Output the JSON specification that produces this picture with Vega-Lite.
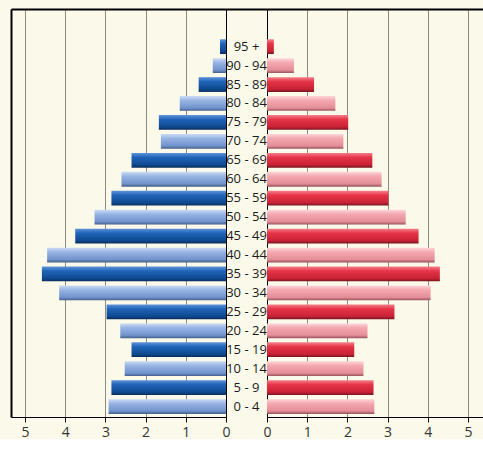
{
  "$schema": "https://vega.github.io/schema/vega-lite/v6.json",
  "background": "#fbfaea",
  "padding": {"left": 11, "top": 9, "right": 0, "bottom": 0},
  "autosize": {"type": "pad"},
  "config": {"view": {"stroke": null}},
  "data": {"values": [
    {"age": "95 +", "male": 0.15, "female": 0.17},
    {"age": "90 - 94", "male": 0.33, "female": 0.67},
    {"age": "85 - 89", "male": 0.68, "female": 1.17},
    {"age": "80 - 84", "male": 1.15, "female": 1.7},
    {"age": "75 - 79", "male": 1.67, "female": 2.02},
    {"age": "70 - 74", "male": 1.62, "female": 1.9},
    {"age": "65 - 69", "male": 2.35, "female": 2.62},
    {"age": "60 - 64", "male": 2.6, "female": 2.85},
    {"age": "55 - 59", "male": 2.85, "female": 3.02},
    {"age": "50 - 54", "male": 3.27, "female": 3.45},
    {"age": "45 - 49", "male": 3.75, "female": 3.77},
    {"age": "40 - 44", "male": 4.45, "female": 4.17},
    {"age": "35 - 39", "male": 4.58, "female": 4.3},
    {"age": "30 - 34", "male": 4.15, "female": 4.07},
    {"age": "25 - 29", "male": 2.97, "female": 3.17},
    {"age": "20 - 24", "male": 2.63, "female": 2.5},
    {"age": "15 - 19", "male": 2.35, "female": 2.17},
    {"age": "10 - 14", "male": 2.52, "female": 2.4},
    {"age": "5 - 9", "male": 2.85, "female": 2.65},
    {"age": "0 - 4", "male": 2.92, "female": 2.67}
  ]},
  "spacing": 0,
  "bounds": "flush",
  "resolve": {"scale": {"x": "independent", "y": "independent"}},
  "hconcat": [
    {
      "width": 215,
      "height": 408,
      "encoding": {
        "y": {"field": "age", "type": "nominal", "sort": null,
          "scale": {"type": "band", "domain": ["95 +","90 - 94","85 - 89","80 - 84","75 - 79","70 - 74","65 - 69","60 - 64","55 - 59","50 - 54","45 - 49","40 - 44","35 - 39","30 - 34","25 - 29","20 - 24","15 - 19","10 - 14","5 - 9","0 - 4"], "paddingInner": 0.22, "paddingOuter": 0.88, "align": 0.908},
          "axis": {"orient": "left", "labels": false, "ticks": false, "grid": false, "title": null, "domain": true, "domainColor": "#000000", "domainWidth": 2}}
      },
      "layer": [
        {
          "transform": [{"filter": {"field": "age", "oneOf": ["95 +","85 - 89","75 - 79","65 - 69","55 - 59","45 - 49","35 - 39","25 - 29","15 - 19","5 - 9"]}}],
          "mark": {"type": "bar", "color": {"gradient": "linear", "x1": 0, "y1": 0, "x2": 0, "y2": 1, "stops": [
            {"offset": 0, "color": "#5f93da"}, {"offset": 0.3, "color": "#2064b8"}, {"offset": 0.8, "color": "#0e4990"}, {"offset": 1, "color": "#0a2c5c"}]}},
          "encoding": {
            "x": {"field": "male", "type": "quantitative",
              "scale": {"domain": [0, 5.348], "reverse": true, "nice": false, "zero": true},
              "axis": {"orient": "bottom", "values": [0,1,2,3,4,5], "title": null, "domain": true, "domainColor": "#000000", "domainWidth": 1,
                "ticks": true, "tickColor": "#000000", "tickSize": 5, "labelFont": "Open Sans", "labelFontSize": 14, "labelColor": "#333333",
                "labelPadding": 3, "labelFlush": false, "grid": true,
                "gridColor": {"condition": {"test": "datum.value === 0", "value": "#000000"}, "value": "#8c8c84"}}}
          }
        },
        {
          "transform": [{"filter": {"not": {"field": "age", "oneOf": ["95 +","85 - 89","75 - 79","65 - 69","55 - 59","45 - 49","35 - 39","25 - 29","15 - 19","5 - 9"]}}}],
          "mark": {"type": "bar", "color": {"gradient": "linear", "x1": 0, "y1": 0, "x2": 0, "y2": 1, "stops": [
            {"offset": 0, "color": "#cddcf4"}, {"offset": 0.3, "color": "#98b4e4"}, {"offset": 0.8, "color": "#7193cc"}, {"offset": 1, "color": "#445f8c"}]}},
          "encoding": {
            "x": {"field": "male", "type": "quantitative",
              "scale": {"domain": [0, 5.348], "reverse": true, "nice": false, "zero": true},
              "axis": {"orient": "top", "labels": false, "ticks": false, "grid": false, "title": null, "domain": true, "domainColor": "#000000", "domainWidth": 2}}
          }
        }
      ],
      "resolve": {"axis": {"x": "independent"}}
    },
    {
      "width": 41,
      "height": 408,
      "mark": {"type": "text", "font": "Open Sans", "fontSize": 13, "color": "#1a1a1a", "baseline": "middle", "align": "center"},
      "encoding": {
        "y": {"field": "age", "type": "nominal", "sort": null,
          "scale": {"type": "band", "domain": ["95 +","90 - 94","85 - 89","80 - 84","75 - 79","70 - 74","65 - 69","60 - 64","55 - 59","50 - 54","45 - 49","40 - 44","35 - 39","30 - 34","25 - 29","20 - 24","15 - 19","10 - 14","5 - 9","0 - 4"], "paddingInner": 0.22, "paddingOuter": 0.88, "align": 0.908},
          "axis": null},
        "x": {"datum": 0.5, "type": "quantitative", "scale": {"domain": [0, 1], "nice": false},
          "axis": {"orient": "top", "labels": false, "ticks": false, "grid": false, "title": null, "domain": true, "domainColor": "#000000", "domainWidth": 2}},
        "text": {"field": "age"}
      }
    },
    {
      "width": 216,
      "height": 408,
      "encoding": {
        "y": {"field": "age", "type": "nominal", "sort": null,
          "scale": {"type": "band", "domain": ["95 +","90 - 94","85 - 89","80 - 84","75 - 79","70 - 74","65 - 69","60 - 64","55 - 59","50 - 54","45 - 49","40 - 44","35 - 39","30 - 34","25 - 29","20 - 24","15 - 19","10 - 14","5 - 9","0 - 4"], "paddingInner": 0.22, "paddingOuter": 0.88, "align": 0.908},
          "axis": null}
      },
      "layer": [
        {
          "transform": [{"filter": {"field": "age", "oneOf": ["95 +","85 - 89","75 - 79","65 - 69","55 - 59","45 - 49","35 - 39","25 - 29","15 - 19","5 - 9"]}}],
          "mark": {"type": "bar", "color": {"gradient": "linear", "x1": 0, "y1": 0, "x2": 0, "y2": 1, "stops": [
            {"offset": 0, "color": "#f4808b"}, {"offset": 0.3, "color": "#e63448"}, {"offset": 0.8, "color": "#c92236"}, {"offset": 1, "color": "#78141f"}]}},
          "encoding": {
            "x": {"field": "female", "type": "quantitative",
              "scale": {"domain": [0, 5.373], "nice": false, "zero": true},
              "axis": {"orient": "bottom", "values": [0,1,2,3,4,5], "title": null, "domain": true, "domainColor": "#000000", "domainWidth": 1,
                "ticks": true, "tickColor": "#000000", "tickSize": 5, "labelFont": "Open Sans", "labelFontSize": 14, "labelColor": "#333333",
                "labelPadding": 3, "labelFlush": false, "grid": true,
                "gridColor": {"condition": {"test": "datum.value === 0", "value": "#000000"}, "value": "#8c8c84"}}}
          }
        },
        {
          "transform": [{"filter": {"not": {"field": "age", "oneOf": ["95 +","85 - 89","75 - 79","65 - 69","55 - 59","45 - 49","35 - 39","25 - 29","15 - 19","5 - 9"]}}}],
          "mark": {"type": "bar", "color": {"gradient": "linear", "x1": 0, "y1": 0, "x2": 0, "y2": 1, "stops": [
            {"offset": 0, "color": "#fcd6da"}, {"offset": 0.3, "color": "#f4a8b0"}, {"offset": 0.8, "color": "#e48e98"}, {"offset": 1, "color": "#98525c"}]}},
          "encoding": {
            "x": {"field": "female", "type": "quantitative",
              "scale": {"domain": [0, 5.373], "nice": false, "zero": true},
              "axis": {"orient": "top", "labels": false, "ticks": false, "grid": false, "title": null, "domain": true, "domainColor": "#000000", "domainWidth": 2}}
          }
        }
      ],
      "resolve": {"axis": {"x": "independent"}}
    }
  ]
}
